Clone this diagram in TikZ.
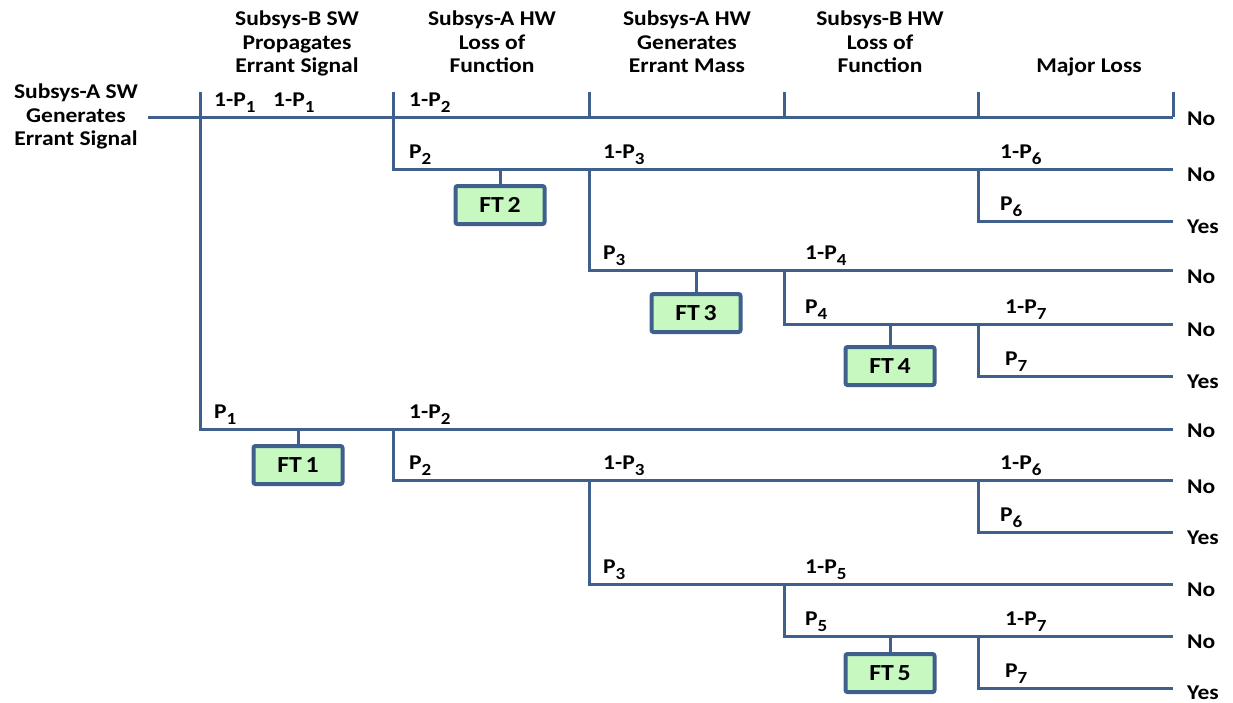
\documentclass[tikz,border=0pt]{standalone}
\usepackage{fontspec}
\setmainfont{Carlito}[FakeStretch=1.12]
\definecolor{tree}{HTML}{3F5F8C}
\definecolor{ftfill}{HTML}{C6F8C0}
% lowered, smaller subscript for probability labels
\newcommand\psub[1]{\raisebox{-0.6ex}{\fontsize{17}{17}\selectfont #1}}
\begin{document}
\begin{tikzpicture}[x=1pt,y=-1pt,
  branch/.style={draw=tree,line width=3pt},
  hdr/.style={font=\fontsize{21}{23.5}\selectfont\bfseries,align=center,anchor=north,inner sep=0pt},
  prob/.style={font=\fontsize{21}{21}\selectfont\bfseries,anchor=base west,inner sep=0pt},
  outc/.style={font=\fontsize{21}{21}\selectfont\bfseries,anchor=base west,inner sep=0pt},
  ftbox/.style={draw=tree,line width=4pt,fill=ftfill,rounded corners=2pt,
    minimum width=89pt,minimum height=38pt,inner sep=0pt,
    font=\fontsize{23}{23}\selectfont\bfseries}
]
\useasboundingbox (0,0) rectangle (1233,702);

% column headings
\node[hdr] (hA) at (76,84) {Subsys-A SW\\Generates\\Errant Signal};
\node[hdr] (hB) at (297,11) {Subsys-B SW\\Propagates\\Errant Signal};
\node[hdr] (hC) at (492,11) {Subsys-A HW\\Loss of\\Function};
\node[hdr] (hD) at (687,11) {Subsys-A HW\\Generates\\Errant Mass};
\node[hdr] (hE) at (880,11) {Subsys-B HW\\Loss of\\Function};
\node[hdr] (hF) at (1089,58) {Major Loss};

% column tick marks above the top branch
\foreach \n/\x in {t1/200,t2/393,t3/589,t4/784,t5/978,t6/1173}
  \coordinate (\n) at (\x,92);

% branch points
\coordinate (s0) at (148,117);
\coordinate (a1) at (200,117);  \coordinate (a2) at (200,429);
\coordinate (b1) at (393,117);  \coordinate (b2) at (393,169);
\coordinate (c1) at (589,117);  \coordinate (c2) at (589,169); \coordinate (c3) at (589,270);
\coordinate (d1) at (784,117);  \coordinate (d3) at (784,270); \coordinate (d4) at (784,324);
\coordinate (e1) at (978,117);  \coordinate (e2) at (978,169); \coordinate (e3) at (978,221);
\coordinate (e4) at (978,324);  \coordinate (e5) at (978,376);
\coordinate (b3) at (393,429);  \coordinate (b4) at (393,480);
\coordinate (c4) at (589,480);  \coordinate (c5) at (589,584);
\coordinate (d5) at (784,584);  \coordinate (d6) at (784,636);
\coordinate (e6) at (978,480);  \coordinate (e7) at (978,532);
\coordinate (e8) at (978,636);  \coordinate (e9) at (978,688);

% end points
\foreach \n/\y in {z1/117,z2/169,z3/221,z4/270,z5/324,z6/376,z7/429,z8/480,z9/532,z10/584,z11/636,z12/688}
  \coordinate (\n) at (1173,\y);

% tree lines
\draw[branch] (s0) -- (z1);
\draw[branch] (t1) -- (a2) -- (z7);
\draw[branch] (t2) -- (b2) -- (z2);
\draw[branch] (t3) -- (c1);
\draw[branch] (t4) -- (d1);
\draw[branch] (t5) -- (e1);
\draw[branch] (t6) -- (z1);
\draw[branch] (c2) -- (c3) -- (z4);
\draw[branch] (e2) -- (e3) -- (z3);
\draw[branch] (d3) -- (d4) -- (z5);
\draw[branch] (e4) -- (e5) -- (z6);
\draw[branch] (b3) -- (b4) -- (z8);
\draw[branch] (e6) -- (e7) -- (z9);
\draw[branch] (c4) -- (c5) -- (z10);
\draw[branch] (d5) -- (d6) -- (z11);
\draw[branch] (e8) -- (e9) -- (z12);

% fault tree boxes
\node[ftbox] (ft1) at (298,465) {FT\,1};
\node[ftbox] (ft2) at (500,205) {FT\,2};
\node[ftbox] (ft3) at (696,313) {FT\,3};
\node[ftbox] (ft4) at (890,366) {FT\,4};
\node[ftbox] (ft5) at (890,673) {FT\,5};
\draw[branch] (ft1.north) -- (ft1.north |- a2);
\draw[branch] (ft2.north) -- (ft2.north |- b2);
\draw[branch] (ft3.north) -- (ft3.north |- c3);
\draw[branch] (ft4.north) -- (ft4.north |- d4);
\draw[branch] (ft5.north) -- (ft5.north |- d6);

% branch probabilities
\node[prob] (p1a) at (214,106) {1-P\psub{1}};
\node[prob] (p1b) at (273,106) {1-P\psub{1}};
\node[prob] (p2a) at (409,106) {1-P\psub{2}};
\node[prob] (p2b) at (409,158) {P\psub{2}};
\node[prob] (p3a) at (603,158) {1-P\psub{3}};
\node[prob] (p6a) at (1000,158) {1-P\psub{6}};
\node[prob] (p6b) at (1000,210) {P\psub{6}};
\node[prob] (p3b) at (603,259) {P\psub{3}};
\node[prob] (p4a) at (805,259) {1-P\psub{4}};
\node[prob] (p4b) at (805,313) {P\psub{4}};
\node[prob] (p7a) at (1005,313) {1-P\psub{7}};
\node[prob] (p7b) at (1005,365) {P\psub{7}};
\node[prob] (p1c) at (214,418) {P\psub{1}};
\node[prob] (p2c) at (409,418) {1-P\psub{2}};
\node[prob] (p2d) at (409,469) {P\psub{2}};
\node[prob] (p3c) at (603,469) {1-P\psub{3}};
\node[prob] (p6c) at (1000,469) {1-P\psub{6}};
\node[prob] (p6d) at (1000,521) {P\psub{6}};
\node[prob] (p3d) at (603,573) {P\psub{3}};
\node[prob] (p5a) at (805,573) {1-P\psub{5}};
\node[prob] (p5b) at (805,625) {P\psub{5}};
\node[prob] (p7c) at (1005,625) {1-P\psub{7}};
\node[prob] (p7d) at (1005,677) {P\psub{7}};

% outcomes
\node[outc] (o1) at (1187,125) {No};
\node[outc] (o2) at (1187,181) {No};
\node[outc] (o3) at (1187,233) {Yes};
\node[outc] (o4) at (1187,283) {No};
\node[outc] (o5) at (1187,336) {No};
\node[outc] (o6) at (1187,388) {Yes};
\node[outc] (o7) at (1187,437) {No};
\node[outc] (o8) at (1187,493) {No};
\node[outc] (o9) at (1187,544) {Yes};
\node[outc] (o10) at (1187,596) {No};
\node[outc] (o11) at (1187,648) {No};
\node[outc] (o12) at (1187,699) {Yes};
\end{tikzpicture}
\end{document}
